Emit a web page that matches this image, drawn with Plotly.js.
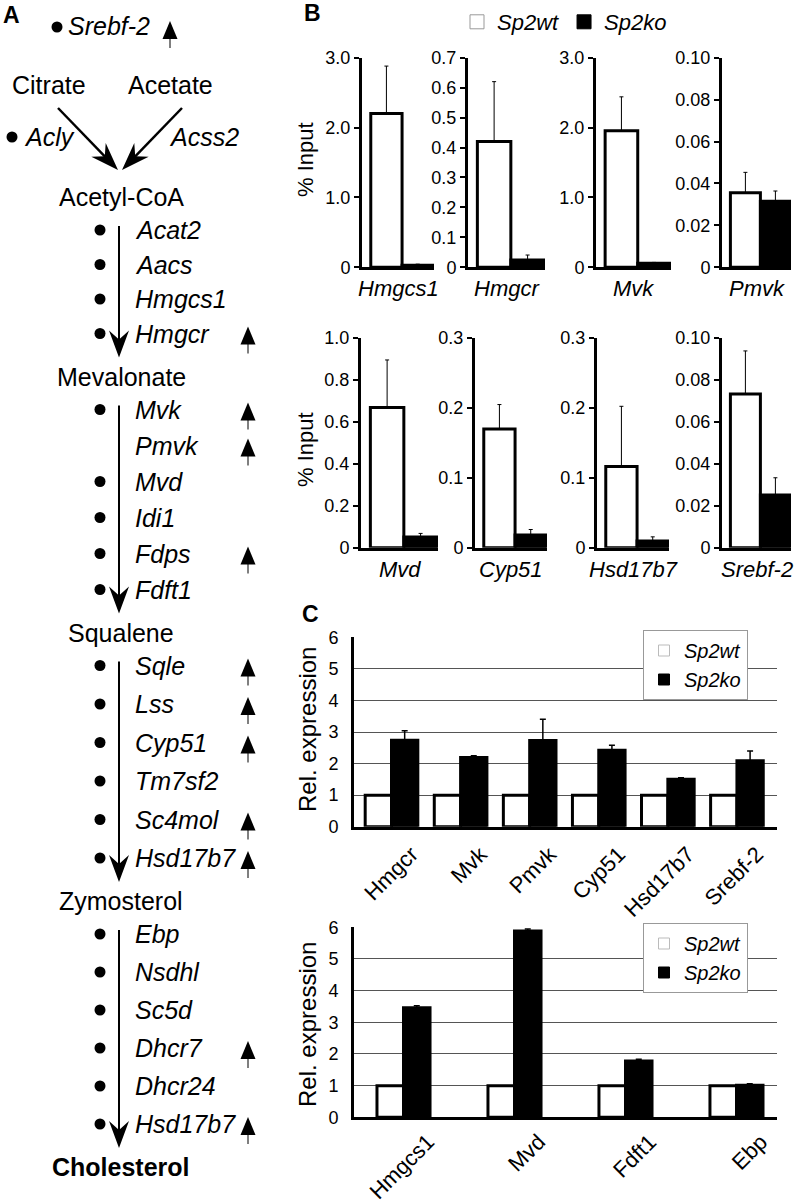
<!DOCTYPE html>
<html><head><meta charset="utf-8">
<script src="https://cdn.plot.ly/plotly-3.0.1.min.js"></script>
<style>html,body{margin:0;padding:0;background:#fff}#chart{width:800px;height:1203px}</style>
</head><body><div id="chart"></div>
<script>
// ================= DATA =================
// Panel B : ChIP (% Input)
const chipGenes  = ['Hmgcs1','Hmgcr','Mvk','Pmvk','Mvd','Cyp51','Hsd17b7','Srebf-2'];
const chipWt     = [2.20, 0.42, 1.955, 0.0356, 0.668, 0.1695, 0.116, 0.0732];
const chipWtErr  = [0.68, 0.20, 0.485, 0.0097, 0.226, 0.035, 0.086, 0.0205];
const chipKo     = [0.03, 0.024, 0.057, 0.0315, 0.051, 0.018, 0.0095, 0.0251];
const chipKoErr  = [0.015, 0.017, 0.013, 0.0049, 0.017, 0.008, 0.006, 0.0082];
const chipTickLabels = [
  ['0','1.0','2.0','3.0'],
  ['0','0.1','0.2','0.3','0.4','0.5','0.6','0.7'],
  ['0','1.0','2.0','3.0'],
  ['0','0.02','0.04','0.06','0.08','0.10'],
  ['0','0.2','0.4','0.6','0.8','1.0'],
  ['0','0.1','0.2','0.3'],
  ['0','0.1','0.2','0.3'],
  ['0','0.02','0.04','0.06','0.08','0.10']
];
const seriesNames = ['Sp2wt','Sp2ko'];

// Panel C : relative expression
const qGenesTop  = ['Hmgcr','Mvk','Pmvk','Cyp51','Hsd17b7','Srebf-2'];
const qWtTop     = [1,1,1,1,1,1];
const qKoTop     = [2.74, 2.19, 2.73, 2.42, 1.50, 2.09];
const qKoErrTop  = [0.30, 0.06, 0.67, 0.16, 0.05, 0.31];
const qGenesBot  = ['Hmgcs1','Mvd','Fdft1','Ebp'];
const qWtBot     = [1,1,1,1];
const qKoBot     = [3.46, 5.88, 1.78, 1.01];
const qKoErrBot  = [0.06, 0.07, 0.05, 0.05];
const qTickLabels = ['0','1','2','3','4','5','6'];

// Panel A : pathway
const precursors   = ['Citrate','Acetate'];
const precursorEnz = ['Acly','Acss2'];
const regulator    = 'Srebf-2';
const metabolites  = ['Acetyl-CoA','Mevalonate','Squalene','Zymosterol','Cholesterol'];
const stepGenes = [
  ['Acat2','Aacs','Hmgcs1','Hmgcr'],
  ['Mvk','Pmvk','Mvd','Idi1','Fdps','Fdft1'],
  ['Sqle','Lss','Cyp51','Tm7sf2','Sc4mol','Hsd17b7'],
  ['Ebp','Nsdhl','Sc5d','Dhcr7','Dhcr24','Hsd17b7']
];
const stepUp  = [[0,0,0,1],[1,1,0,0,1,0],[1,1,1,0,1,1],[0,0,0,1,0,1]];
const stepDot = [[1,1,1,1],[1,0,1,1,1,1],[1,1,1,1,1,1],[1,1,1,1,1,1]];

// ================= LAYOUT HELPERS =================
const W = 800, H = 1203;
const FONT = 'Liberation Sans, Arial, Helvetica, sans-serif';
const PX = x => x / W;
const PY = y => 1 - y / H;
const data = [];
const layout = {
  width: W, height: H, margin: {l:0, r:0, t:0, b:0},
  paper_bgcolor: '#fff', plot_bgcolor: 'rgba(0,0,0,0)',
  font: {family: FONT, color: '#000'},
  barmode: 'overlay', showlegend: true,
  annotations: [], shapes: []
};
const axName = (p, k) => p + 'axis' + (k === 1 ? '' : k);
const axId = (p, k) => p + (k === 1 ? '' : k);
const CLEAR = 'rgba(0,0,0,0)';

// legend swatches (square markers, no drawn points)
function legendEntries(legendId, xa, ya, wtLine, size) {
  data.push({type: 'scatter', mode: 'markers', x: [null], y: [null], xaxis: xa, yaxis: ya,
    legend: legendId, name: '<i>' + seriesNames[0] + '</i>', hoverinfo: 'skip',
    marker: {symbol: 'square', size: size, color: '#fff', line: {color: wtLine, width: 1}}});
  data.push({type: 'scatter', mode: 'markers', x: [null], y: [null], xaxis: xa, yaxis: ya,
    legend: legendId, name: '<i>' + seriesNames[1] + '</i>', hoverinfo: 'skip',
    marker: {symbol: 'square', size: size, color: '#000', line: {color: '#000', width: 1}}});
}

// ---------- Panel B ----------
const bCols = [[[362,434],[468,545],[596,671],[722,791]],
               [[361,438],[475,547],[597,669],[722,791]]];
const bRows = [[57.7,267.3],[337.7,547.7]];
chipGenes.forEach((g, i) => {
  const k = i + 1, r = Math.floor(i / 4), c = i % 4;
  const xd = bCols[r][c], yd = bRows[r];
  const tv = chipTickLabels[i].map(parseFloat);
  layout[axName('x', k)] = {
    domain: [PX(xd[0]), PX(xd[1])], range: [-0.78, 1.52], anchor: axId('y', k),
    showline: true, linewidth: 3, linecolor: '#000', showticklabels: false,
    ticks: '', showgrid: false, zeroline: false, fixedrange: true
  };
  layout[axName('y', k)] = {
    domain: [PY(yd[1]), PY(yd[0])], range: [0, tv[tv.length - 1]], anchor: axId('x', k),
    showline: true, linewidth: 3, linecolor: '#000', ticks: 'outside', ticklen: 5,
    tickwidth: 2, tickcolor: '#000', tickvals: tv, ticktext: chipTickLabels[i],
    tickfont: {size: 18}, showgrid: false, zeroline: false, fixedrange: true
  };
  data.push({
    type: 'bar', x: [0], y: [chipWt[i]], width: 1, xaxis: axId('x', k), yaxis: axId('y', k),
    name: seriesNames[0], showlegend: false,
    marker: {color: '#fff', line: {color: '#000', width: 3}},
    error_y: {type: 'data', symmetric: false, array: [chipWtErr[i]], arrayminus: [0],
              color: '#000', thickness: 1, width: 2},
    hoverinfo: 'skip'
  });
  data.push({
    type: 'bar', x: [1], y: [chipKo[i]], width: 1, xaxis: axId('x', k), yaxis: axId('y', k),
    name: seriesNames[1], showlegend: false,
    marker: {color: '#000', line: {color: '#000', width: 3}},
    error_y: {type: 'data', symmetric: false, array: [chipKoErr[i]], arrayminus: [0],
              color: '#000', thickness: 1, width: 2},
    hoverinfo: 'skip'
  });
  layout.annotations.push({
    xref: axId('x', k) + ' domain', yref: axId('y', k) + ' domain', x: 0.5, y: 0,
    xanchor: 'center', yanchor: 'top', yshift: -7, showarrow: false,
    text: '<i>' + g + '</i>', font: {size: 22}
  });
});
legendEntries('legend', 'x', 'y', '#999', 14);
layout.legend = {
  orientation: 'h', x: PX(457), y: PY(1), xanchor: 'left', yanchor: 'top',
  font: {size: 22}, bgcolor: CLEAR, borderwidth: 0
};

// ---------- Panel C ----------
function qPanel(k, genes, wt, ko, koErr, xd, yd, unitRange, barW, tickShift, tlen, legendId, ly) {
  const idx = genes.map((g, i) => i);
  layout[axName('x', k)] = {
    domain: [PX(xd[0]), PX(xd[1])], range: unitRange, anchor: axId('y', k),
    showline: true, linewidth: 3, linecolor: '#000',
    ticks: 'outside', ticklen: tlen, tickcolor: CLEAR,
    tickvals: idx.map(v => v + tickShift), ticktext: genes, tickangle: -45,
    tickfont: {size: 22}, showgrid: false, zeroline: false, fixedrange: true
  };
  layout[axName('y', k)] = {
    domain: [PY(yd[1]), PY(yd[0])], range: [0, 6], anchor: axId('x', k),
    showline: true, linewidth: 3, linecolor: '#000',
    ticks: 'outside', ticklen: 9, tickcolor: CLEAR,
    tickvals: qTickLabels.map(parseFloat), ticktext: qTickLabels, tickfont: {size: 18},
    showgrid: true, gridcolor: '#555', gridwidth: 1, zeroline: false, fixedrange: true
  };
  data.push({
    type: 'bar', x: idx, y: wt, width: barW, offset: -barW,
    xaxis: axId('x', k), yaxis: axId('y', k), name: seriesNames[0], showlegend: false,
    marker: {color: '#fff', line: {color: '#000', width: 3}}, hoverinfo: 'skip'
  });
  data.push({
    type: 'bar', x: idx, y: ko, width: barW, offset: 0,
    xaxis: axId('x', k), yaxis: axId('y', k), name: seriesNames[1], showlegend: false,
    marker: {color: '#000', line: {color: '#000', width: 3}},
    error_y: {type: 'data', symmetric: false, array: koErr, arrayminus: koErr.map(() => 0),
              color: '#000', thickness: 1.5, width: 3},
    hoverinfo: 'skip'
  });
  legendEntries(legendId, axId('x', k), axId('y', k), '#bbb', 11);
  layout[legendId] = {
    x: PX(643), y: PY(ly), xanchor: 'left', yanchor: 'top',
    bgcolor: '#fff', bordercolor: '#999', borderwidth: 1, font: {size: 20},
    tracegroupgap: 0
  };
}
qPanel(9, qGenesTop, qWtTop, qKoTop, qKoErrTop, [354,777], [637.3,826.7],
       [-0.543, 5.58], 0.381, 0.29, 3, 'legend2', 630);
qPanel(10, qGenesBot, qWtBot, qKoBot, qKoErrBot, [354,777], [927.3,1117.3],
       [-0.446, 3.365], 0.239, 0.22, 0, 'legend3', 923);

// ---------- Panel A (pixel-space overlay axis) ----------
layout.xaxis11 = {domain: [0,1], range: [0, W], anchor: 'y11', visible: false, fixedrange: true};
layout.yaxis11 = {domain: [0,1], range: [H, 0], anchor: 'x11', visible: false, fixedrange: true};
const ann = (x, y, text, o) => layout.annotations.push(Object.assign({
  xref: 'x11', yref: 'y11', x: x, y: y, text: text, showarrow: false,
  xanchor: 'left', yanchor: 'middle', font: {size: 25}
}, o || {}));
const shp = o => layout.shapes.push(Object.assign({xref: 'x11', yref: 'y11'}, o));
function arrowHead(tx, ty, dx, dy, len, hw, notch) {
  const n = Math.hypot(dx, dy); dx /= n; dy /= n;
  const px = -dy, py = dx;
  const bx = tx - dx * len, by = ty - dy * len;
  const nx = tx - dx * (len - notch), ny = ty - dy * (len - notch);
  return 'M' + tx + ',' + ty + ' L' + (bx + px * hw) + ',' + (by + py * hw) +
         ' L' + nx + ',' + ny + ' L' + (bx - px * hw) + ',' + (by - py * hw) + ' Z';
}
function upArrow(x, y) {
  shp({type: 'path', path: 'M' + (x - 7.5) + ',' + (y + 11) + ' L' + x + ',' + (y - 7) +
       ' L' + (x + 7.5) + ',' + (y + 11) + ' Z', fillcolor: '#000', line: {width: 0}});
  shp({type: 'line', x0: x, x1: x, y0: y + 10, y1: y + 20, line: {color: '#000', width: 1}});
}
const PA = {lineX: 119, dotX: 100, textX: 133, upX: 248, metX: 121, startY: 197,
            metToGene: 33, geneToMet: 43, geneGap: [34.5, 36, 38.5, 38], tipOff: 19};
const dotsX = [], dotsY = [];
// Panel letters
ann(11.5, 15, '<b>A</b>', {xanchor: 'center', font: {size: 23}});
ann(312, 13, '<b>B</b>', {xanchor: 'center', font: {size: 23}});
ann(310, 614, '<b>C</b>', {xanchor: 'center', font: {size: 23}});
// regulator
dotsX.push(57); dotsY.push(27);
ann(66, 26, '<i>' + regulator + '</i>');
upArrow(170, 28);
// precursors
const precX = [49, 170];
precursors.forEach((p, i) => ann(precX[i], 85, p, {xanchor: 'center'}));
const arrowStart = [[58,108],[182,108]], arrowTip = [[118,170],[122,170]];
arrowStart.forEach((s, i) => {
  const t = arrowTip[i], dx = t[0] - s[0], dy = t[1] - s[1], n = Math.hypot(dx, dy);
  shp({type: 'line', x0: s[0], y0: s[1], x1: t[0] - dx / n * 18, y1: t[1] - dy / n * 18,
       line: {color: '#000', width: 2.5}});
  shp({type: 'path', path: arrowHead(t[0], t[1], dx, dy, 28, 10, 9), fillcolor: '#000', line: {width: 0}});
});
dotsX.push(12); dotsY.push(137);
ann(22, 137, '<i>' + precursorEnz[0] + '</i>');
ann(167, 137, '<i>' + precursorEnz[1] + '</i>');
// main pathway
let yy = PA.startY;
ann(PA.metX, yy, metabolites[0], {xanchor: 'center'});
stepGenes.forEach((genes, s) => {
  yy += PA.metToGene;
  const top = yy - 4;
  genes.forEach((g, j) => {
    if (j > 0) yy += PA.geneGap[s];
    ann(PA.textX, yy, '<i>' + g + '</i>');
    if (stepDot[s][j]) { dotsX.push(PA.dotX); dotsY.push(yy); }
    if (stepUp[s][j]) upArrow(PA.upX, yy);
  });
  yy += PA.geneToMet;
  const tip = yy - PA.tipOff;
  shp({type: 'line', x0: PA.lineX, x1: PA.lineX, y0: top, y1: tip - 12, line: {color: '#000', width: 2}});
  shp({type: 'path', path: arrowHead(PA.lineX, tip, 0, 1, 27, 10, 9), fillcolor: '#000', line: {width: 0}});
  const last = s === stepGenes.length - 1;
  ann(PA.metX, yy, last ? '<b>' + metabolites[s + 1] + '</b>' : metabolites[s + 1], {xanchor: 'center'});
});
data.push({
  type: 'scatter', mode: 'markers', x: dotsX, y: dotsY, xaxis: 'x11', yaxis: 'y11',
  marker: {color: '#000', size: 11}, showlegend: false, hoverinfo: 'skip'
});

// axis titles
[160, 450].forEach(y => ann(305, y, '% Input', {xanchor: 'center', textangle: -90, font: {size: 22}}));
[730, 1025].forEach(y => ann(307, y, 'Rel. expression', {xanchor: 'center', textangle: -90, font: {size: 24}}));

Plotly.newPlot('chart', data, layout, {staticPlot: true});
</script></body></html>
